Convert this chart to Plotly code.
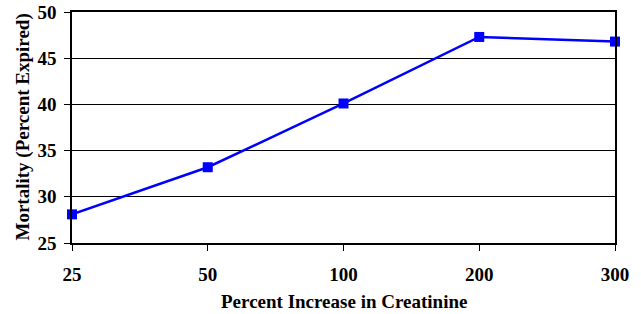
import plotly.graph_objects as go

categories = ["25", "50", "100", "200", "300"]
mortality = [28.1, 33.2, 40.1, 47.3, 46.8]
y_ticks = [25, 30, 35, 40, 45, 50]

font_family = "Liberation Serif, Times New Roman, serif"
fsize = 19

fig = go.Figure()
fig.add_trace(go.Scatter(
    x=list(range(len(categories))), y=mortality, mode="lines+markers",
    line=dict(color="#0000FF", width=2.5),
    marker=dict(symbol="square", size=10, color="#0000FF"),
    cliponaxis=False, showlegend=False,
))

fig.update_layout(
    width=641, height=314,
    margin=dict(l=72, r=26, t=12, b=71, autoexpand=False),
    paper_bgcolor="white", plot_bgcolor="white",
    font=dict(family=font_family, size=fsize, color="black"),
    xaxis=dict(
        range=[0, len(categories) - 1], automargin=False,
        tickmode="array", tickvals=list(range(len(categories))),
        ticktext=["<b>%s</b>" % c for c in categories],
        showgrid=False, zeroline=False,
        showline=True, linecolor="black", linewidth=1.5, mirror=True,
        ticks="outside", ticklen=6, tickcolor="black", tickwidth=1,
        ticklabelstandoff=7,
        tickfont=dict(family=font_family, size=fsize, color="black"),
    ),
    yaxis=dict(
        range=[25, 50], automargin=False,
        tickmode="array", tickvals=y_ticks,
        ticktext=["<b>%d</b>" % v for v in y_ticks],
        showgrid=True, gridcolor="black", gridwidth=1, zeroline=False,
        showline=True, linecolor="black", linewidth=1.5, mirror=True,
        ticks="outside", ticklen=6, tickcolor="black", tickwidth=1,
        ticklabelstandoff=4,
        tickfont=dict(family=font_family, size=fsize, color="black"),
    ),
    annotations=[
        dict(text="<b>Percent Increase in Creatinine</b>", xref="paper", yref="paper",
             x=0.5, y=0, xanchor="center", yanchor="middle", yshift=-58,
             showarrow=False, font=dict(family=font_family, size=fsize, color="black")),
        dict(text="<b>Mortality (Percent Expired)</b>", xref="paper", yref="paper",
             x=0, y=0.5, xanchor="center", yanchor="middle", xshift=-50,
             textangle=-90, showarrow=False,
             font=dict(family=font_family, size=fsize, color="black")),
    ],
)

fig.write_html("out.html", config={"displayModeBar": False},
               post_script="document.body.style.margin='0';")
